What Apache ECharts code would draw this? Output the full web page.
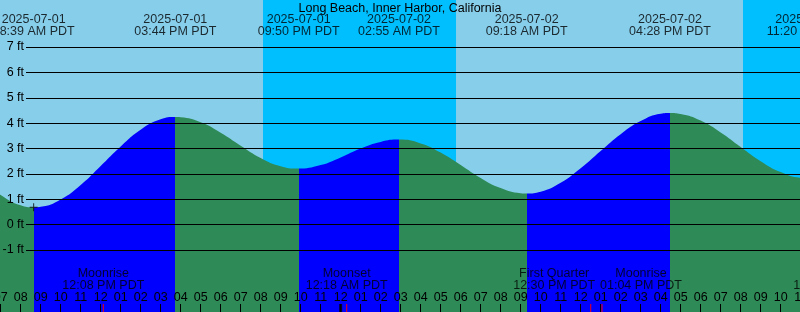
<!DOCTYPE html>
<html><head><meta charset="utf-8">
<script src="https://cdn.jsdelivr.net/npm/echarts@6/dist/echarts.min.js"></script>
<style>html,body{margin:0;padding:0;background:#87CEEB}#c{width:800px;height:312px}</style>
</head><body><div id="c"></div>
<script>
// Times are hours since 2025-07-01 00:00 PDT
const tideTimes = [6,7,8,8.65,9,10,11,12,13,14,15,15.733,16,17,18,19,20,21,21.833,23,24,25,26,26.917,28,29,30,31,32,33,33.3,34,35,36,37,38,39,40,40.467,41,42,43,44,45,46,47,47.333];
const tideHeights = [1.75,1.17,0.76,0.68,0.70,0.99,1.56,2.31,3.08,3.74,4.15,4.24,4.23,4.03,3.62,3.11,2.63,2.30,2.21,2.35,2.65,3.00,3.26,3.35,3.20,2.84,2.35,1.84,1.44,1.24,1.23,1.30,1.65,2.22,2.90,3.56,4.08,4.37,4.40,4.36,4.10,3.63,3.06,2.50,2.07,1.85,1.84];

const extremeTimes = [8.65, 15.733, 21.9, 26.917, 33.3, 40.467, 47.333];
const extremeHeights = [0.68, 4.24, 2.21, 3.35, 1.23, 4.40, 1.84];
const extremeKinds = ['low','high','low','high','low','high','low'];
const extremeDates = ['2025-07-01','2025-07-01','2025-07-01','2025-07-02','2025-07-02','2025-07-02','2025-07-02'];
const extremeClock = ['08:39 AM PDT','03:44 PM PDT','09:50 PM PDT','02:55 AM PDT','09:18 AM PDT','04:28 PM PDT','11:20 PM PDT'];

const moonTimes = [12.133, 24.3, 36.5, 37.067, 48.683];
const moonEvents = ['Moonrise','Moonset','First Quarter','Moonrise','Moonset'];
const moonClock = ['12:08 PM PDT','12:18 AM PDT','12:30 PM PDT','01:04 PM PDT','12:41 AM PDT'];

const sunsetTimes = [20.117, 44.117];
const sunriseTimes = [29.767, 53.767];
const midnightTimes = [24];

const heightMin = -1, heightMax = 7;
const title = 'Long Beach, Inner Harbor, California';

// ---- styling / layout ----
const FONT = 'Liberation Sans', FS = 12.5;
const BLUE = '#0000FF', GREEN = '#2E8B57', DAY = '#87CEEB', NIGHT = '#00BFFF';
const X0 = 0.67, PXH = 20;               // pixel of 07:00, pixels per hour
const xMin = 7 - X0 / PXH, xMax = xMin + 800 / PXH;
const gridTop = 47, pxFt = 25.375;
const zeroPx = gridTop + heightMax * pxFt;
const yMax = zeroPx / pxFt, yMin = -(312 - zeroPx) / pxFt;

const pieces = [];
extremeTimes.forEach((t, i) => {
  const p = { lt: t, color: extremeKinds[i] === 'high' ? BLUE : GREEN };
  if (i > 0) p.gte = extremeTimes[i - 1];
  pieces.push(p);
});
pieces.push({ gte: extremeTimes[extremeTimes.length - 1],
  color: extremeKinds[extremeKinds.length - 1] === 'low' ? BLUE : GREEN });

const hourFmt = v => { const h = ((Math.round(v) % 12) + 12) % 12 || 12; return String(h).padStart(2, '0'); };
const moonShift = { 2: -36.5, 3: 39 };
const txt = { color: '#000', fontFamily: FONT, fontSize: FS };

const chart = echarts.init(document.getElementById('c'), null, { renderer: 'canvas' });
chart.setOption({
  animation: false,
  backgroundColor: DAY,
  title: { text: title, left: 'center', top: 2, padding: 0,
    textStyle: Object.assign({ fontWeight: 'normal' }, txt) },
  grid: [
    { left: 0, top: 0, width: 800, height: 312, outerBoundsMode: 'none' },
    { left: 26, top: gridTop, right: 0, height: (heightMax - heightMin) * pxFt, outerBoundsMode: 'none' },
    { left: X0, top: 0, width: 800, height: 312, outerBoundsMode: 'none' }
  ],
  xAxis: [
    { type: 'value', gridIndex: 0, min: xMin, max: xMax, show: false },
    { type: 'value', gridIndex: 1, min: 0, max: 1, show: false },
    { type: 'value', gridIndex: 2, min: 7, max: 47, interval: 1, position: 'bottom', z: 6,
      axisLine: { show: false }, splitLine: { show: false },
      axisTick: { show: true, inside: true, length: 8, lineStyle: { color: '#000', width: 1 } },
      axisLabel: Object.assign({ inside: true, margin: 14, verticalAlign: 'middle', formatter: hourFmt,
        showMinLabel: true, showMaxLabel: true, hideOverlap: false }, txt) }
  ],
  yAxis: [
    { type: 'value', gridIndex: 0, min: yMin, max: yMax, show: false },
    { type: 'value', gridIndex: 1, min: heightMin, max: heightMax, interval: 1, z: 5,
      axisLine: { show: false }, axisTick: { show: false },
      splitLine: { show: true, lineStyle: { color: '#000', width: 1 } },
      axisLabel: Object.assign({ margin: 2, formatter: '{value} ft' }, txt) },
    { type: 'value', gridIndex: 2, min: 0, max: 1, show: false }
  ],
  visualMap: { show: false, type: 'piecewise', dimension: 0, seriesIndex: 0, pieces: pieces },
  series: [
    { type: 'line', xAxisIndex: 0, yAxisIndex: 0, z: 2,
      data: tideTimes.map((t, i) => [t, tideHeights[i]]),
      smooth: 0.5, showSymbol: false, silent: true,
      lineStyle: { width: 0 },
      areaStyle: { opacity: 1, origin: 'start' },
      markArea: { silent: true, label: { show: false }, itemStyle: { color: NIGHT, opacity: 1 },
        data: sunsetTimes.map((s, i) => [{ xAxis: s }, { xAxis: sunriseTimes[i] }]) } },
    { type: 'scatter', xAxisIndex: 0, yAxisIndex: 0, z: 3, silent: true,
      symbol: 'path://M0,3.5h8v1h-8z M3.5,0h1v8h-1z', symbolSize: [8, 8],
      itemStyle: { color: '#000' },
      data: [[extremeTimes[0], extremeHeights[0]]] },
    { type: 'scatter', xAxisIndex: 2, yAxisIndex: 2, z: 7, silent: true, symbolSize: 0, clip: false,
      label: Object.assign({ show: true, position: 'bottom', distance: 13.5, lineHeight: 12 }, txt),
      data: extremeTimes.map((t, i) => ({ value: [t, 1],
        label: { formatter: extremeDates[i] + '\n' + extremeClock[i] } })) },
    { type: 'scatter', xAxisIndex: 2, yAxisIndex: 2, z: 7, silent: true, symbolSize: 0, clip: false,
      label: Object.assign({ show: true, position: 'top', distance: 19.75, lineHeight: 12.5 }, txt),
      data: moonTimes.map((t, i) => ({ value: [t, 0],
        label: { formatter: moonEvents[i] + '\n' + moonClock[i], offset: [moonShift[i] || 0, 0] } })) },
    { type: 'scatter', xAxisIndex: 2, yAxisIndex: 2, z: 7, silent: true,
      symbol: 'rect', symbolSize: [3, 8], symbolOffset: [0, -4], itemStyle: { color: '#000' },
      data: midnightTimes.map(t => [t, 0]) },
    { type: 'scatter', xAxisIndex: 2, yAxisIndex: 2, z: 8, silent: true,
      symbol: 'rect', symbolSize: [1.2, 8], symbolOffset: [0, -4], itemStyle: { color: '#FF0000' },
      data: moonTimes.map(t => [t, 0]) }
  ]
});
</script></body></html>
